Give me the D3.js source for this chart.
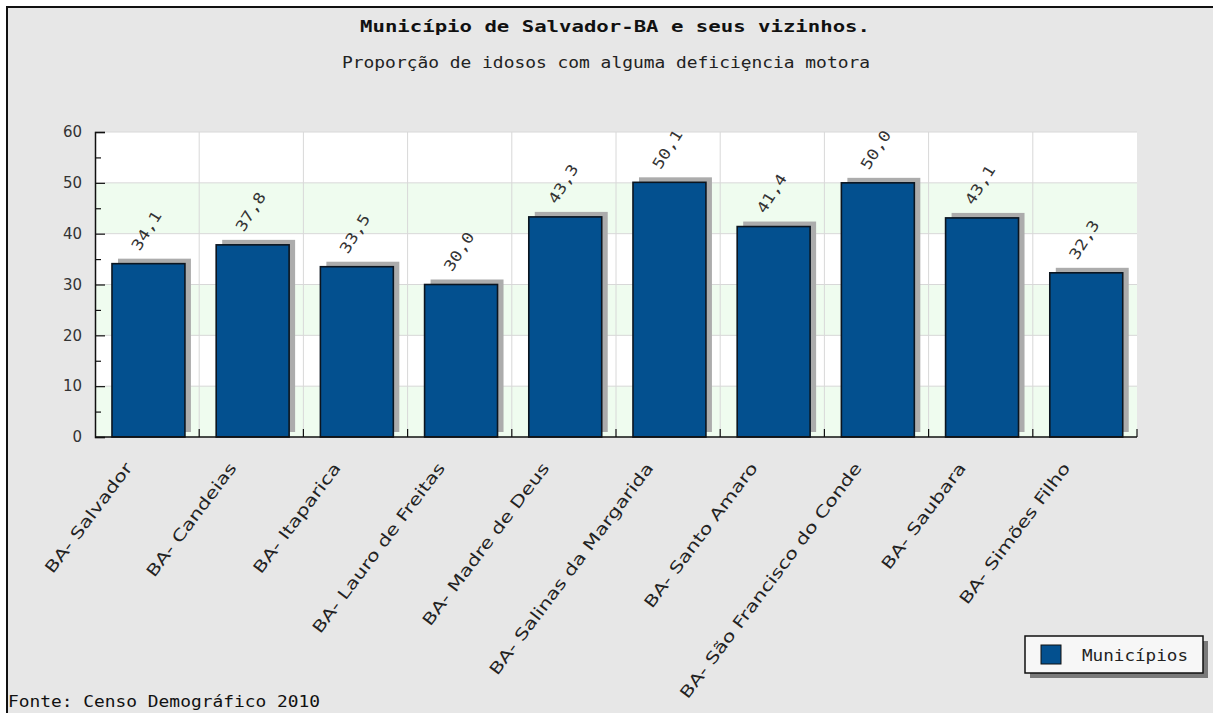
<!DOCTYPE html>
<html>
<head>
<meta charset="utf-8">
<script src="https://cdn.jsdelivr.net/npm/d3@7"></script>
<style>
  html, body { margin: 0; padding: 0; background: #fff; }
  svg { display: block; }
</style>
</head>
<body>
<svg id="chart" width="1213" height="713"></svg>
<script>
var categories = ['BA- Salvador', 'BA- Candeias', 'BA- Itaparica', 'BA- Lauro de Freitas',
  'BA- Madre de Deus', 'BA- Salinas da Margarida', 'BA- Santo Amaro',
  'BA- São Francisco do Conde', 'BA- Saubara', 'BA- Simões Filho'];
var values = [34.1, 37.8, 33.5, 30.0, 43.3, 50.1, 41.4, 50.0, 43.1, 32.3];
var yTicks = [0, 10, 20, 30, 40, 50, 60];
var yMinorTicks = [5, 15, 25, 35, 45, 55];
var title = 'Município de Salvador-BA e seus vizinhos.';
var subtitle = 'Proporção de idosos com alguma deficiȩncia motora';
var seriesName = 'Municípios';
var source = 'Fonte: Censo Demográfico 2010';

var mono = '"DejaVu Sans Mono", "Liberation Mono", monospace',
    sans = '"DejaVu Sans", Verdana, sans-serif',
    barColor = '#03508f';

var svg = d3.select('#chart');

// grey frame, only top and left edges are visible
svg.append('rect')
  .attr('x', 7).attr('y', 7)
  .attr('width', 1230).attr('height', 730)
  .attr('fill', '#e7e7e7')
  .attr('stroke', '#111')
  .attr('stroke-width', 2);

var plot = { left: 95, right: 1137, top: 132, bottom: 437 };

var x = d3.scaleBand()
  .domain(categories)
  .range([plot.left, plot.right])
  .padding(0);

var y = d3.scaleLinear()
  .domain([0, 60])
  .range([plot.bottom, plot.top]);

// plot background with alternating bands
svg.append('rect')
  .attr('x', plot.left).attr('y', plot.top)
  .attr('width', plot.right - plot.left).attr('height', plot.bottom - plot.top)
  .attr('fill', '#ffffff');

svg.append('g').selectAll('rect')
  .data(yTicks.slice(0, -1).filter(function(d) { return (d / 10) % 2 === 0; }))
  .join('rect')
    .attr('x', plot.left)
    .attr('y', function(d) { return y(d + 10); })
    .attr('width', plot.right - plot.left)
    .attr('height', function(d) { return y(d) - y(d + 10); })
    .attr('fill', '#effcef');

// grid lines
svg.append('g').selectAll('line')
  .data(yTicks.slice(1))
  .join('line')
    .attr('x1', plot.left).attr('x2', plot.right)
    .attr('y1', function(d) { return y(d); })
    .attr('y2', function(d) { return y(d); })
    .attr('stroke', '#d8d8d8');

var bounds = categories.map(function(c) { return x(c) + x.step(); });

svg.append('g').selectAll('line')
  .data(bounds.slice(0, -1))
  .join('line')
    .attr('x1', function(d) { return d; })
    .attr('x2', function(d) { return d; })
    .attr('y1', plot.top).attr('y2', plot.bottom)
    .attr('stroke', '#d8d8d8');

// bars with shadow
var barOffset = x.step() * 0.163,
    barWidth = x.step() * 0.70;

var bars = svg.append('g').selectAll('g')
  .data(values)
  .join('g');

bars.append('rect')
  .attr('x', function(d, i) { return x(categories[i]) + barOffset + 6; })
  .attr('y', function(d) { return y(d) - 5; })
  .attr('width', barWidth)
  .attr('height', function(d) { return y(0) - y(d); })
  .attr('fill', '#acacac');

bars.append('rect')
  .attr('x', function(d, i) { return x(categories[i]) + barOffset; })
  .attr('y', function(d) { return y(d); })
  .attr('width', barWidth)
  .attr('height', function(d) { return y(0) - y(d); })
  .attr('fill', barColor)
  .attr('stroke', '#0b1520')
  .attr('stroke-width', 1.6);

// value labels
bars.append('text')
  .attr('transform', function(d, i) {
    var cx = x(categories[i]) + barOffset + barWidth / 2;
    return 'translate(' + (cx - 9) + ',' + (y(d) - 12) + ') rotate(-58)';
  })
  .attr('font-family', mono)
  .attr('font-size', 15)
  .attr('fill', '#333')
  .attr('textLength', 43)
  .attr('lengthAdjust', 'spacingAndGlyphs')
  .text(function(d) { return d.toFixed(1).replace('.', ','); });

// y axis
var yAxis = svg.append('g')
  .attr('transform', 'translate(' + plot.left + ',0)')
  .call(d3.axisLeft(y).tickValues(yTicks).tickSize(-10).tickPadding(13));

yAxis.select('.domain').attr('stroke', '#111').attr('stroke-width', 1.5);
yAxis.selectAll('.tick line').attr('stroke', '#111').attr('stroke-width', 1.2);
yAxis.selectAll('.tick text')
  .attr('font-family', sans)
  .attr('font-size', 15)
  .attr('fill', '#333');

svg.append('g')
  .attr('transform', 'translate(' + plot.left + ',0)')
  .call(d3.axisLeft(y).tickValues(yMinorTicks).tickSize(-6).tickFormat(''))
  .call(function(g) {
    g.select('.domain').remove();
    g.selectAll('.tick line').attr('stroke', '#111').attr('stroke-width', 1.2);
  });

// x axis
svg.append('line')
  .attr('x1', plot.left).attr('x2', plot.right)
  .attr('y1', plot.bottom).attr('y2', plot.bottom)
  .attr('stroke', '#111').attr('stroke-width', 1.5);

svg.append('g').selectAll('line')
  .data(bounds)
  .join('line')
    .attr('x1', function(d) { return d; })
    .attr('x2', function(d) { return d; })
    .attr('y1', plot.bottom).attr('y2', plot.bottom - 8)
    .attr('stroke', '#111').attr('stroke-width', 1.2);

var xLabels = svg.append('g').selectAll('text')
  .data(categories)
  .join('text')
    .attr('transform', function(d) {
      var cx = x(d) + x.step() / 2;
      return 'translate(' + (cx - 14) + ',' + (plot.bottom + 31) + ') rotate(-53)';
    })
    .attr('text-anchor', 'end')
    .attr('font-family', sans)
    .attr('font-size', 16)
    .attr('fill', '#222')
    .text(function(d) { return d; });

xLabels.each(function() {
  var len = this.getComputedTextLength();
  d3.select(this)
    .attr('textLength', len * 1.3)
    .attr('lengthAdjust', 'spacingAndGlyphs');
});

// titles
svg.append('text')
  .attr('x', 615).attr('y', 32)
  .attr('text-anchor', 'middle')
  .attr('font-family', mono)
  .attr('font-weight', 'bold')
  .attr('font-size', 16)
  .attr('fill', '#111')
  .attr('textLength', 510)
  .attr('lengthAdjust', 'spacingAndGlyphs')
  .text(title);

svg.append('text')
  .attr('x', 606).attr('y', 68)
  .attr('text-anchor', 'middle')
  .attr('font-family', mono)
  .attr('font-size', 15)
  .attr('fill', '#222')
  .attr('textLength', 528)
  .attr('lengthAdjust', 'spacingAndGlyphs')
  .text(subtitle);

// legend
var legend = svg.append('g');

legend.append('rect')
  .attr('x', 1030).attr('y', 641)
  .attr('width', 178).attr('height', 37)
  .attr('fill', '#7a7a7a');

legend.append('rect')
  .attr('x', 1025).attr('y', 636)
  .attr('width', 178).attr('height', 37)
  .attr('fill', '#f7f7f7')
  .attr('stroke', '#111')
  .attr('stroke-width', 1.5);

legend.append('rect')
  .attr('x', 1041).attr('y', 645)
  .attr('width', 20).attr('height', 19)
  .attr('fill', barColor)
  .attr('stroke', '#111');

legend.append('text')
  .attr('x', 1082).attr('y', 661)
  .attr('font-family', mono)
  .attr('font-size', 15)
  .attr('fill', '#222')
  .attr('textLength', 106)
  .attr('lengthAdjust', 'spacingAndGlyphs')
  .text(seriesName);

// source note
svg.append('text')
  .attr('x', 8).attr('y', 707)
  .attr('font-family', mono)
  .attr('font-size', 15)
  .attr('fill', '#111')
  .attr('textLength', 312)
  .attr('lengthAdjust', 'spacingAndGlyphs')
  .text(source);
</script>
</body>
</html>
